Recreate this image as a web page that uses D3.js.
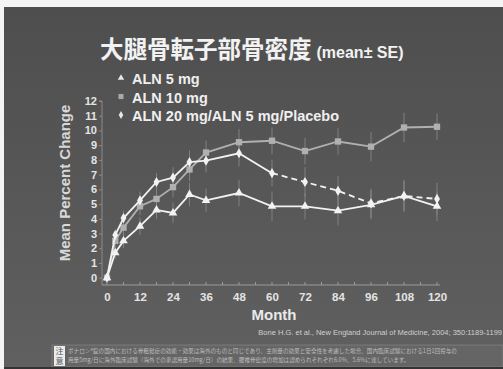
<!DOCTYPE html>
<html>
<head>
<meta charset="utf-8">
<script src="https://cdn.jsdelivr.net/npm/d3@7"></script>
<style>
  body { margin: 0; background: #fff; }
  svg { display: block; font-family: "Liberation Sans", Arial, sans-serif; }
</style>
</head>
<body>
<svg id="chart" width="503" height="369"></svg>
<script>
const months = [0, 3, 6, 12, 18, 24, 30, 36, 48, 60, 72, 84, 96, 108, 120];
const aln5 = [0, 1.7, 2.5, 3.5, 4.6, 4.4, 5.65, 5.25, 5.75, 4.85, 4.85, 4.55, 4.95, 5.55, 4.85];
const aln10 = [0, 2.5, 3.4, 4.85, 5.35, 6.15, 7.35, 8.5, 9.2, 9.3, 8.6, 9.25, 8.9, 10.2, 10.25];
const aln20 = [0, 2.9, 4.05, 5.25, 6.5, 6.8, 7.85, 7.95, 8.45, 7.1, 6.5, 5.9, 5.05, 5.55, 5.35];
const se5 = [0, 0.4, 0.5, 0.6, 0.6, 0.7, 0.8, 0.8, 0.9, 1.0, 0.9, 1.0, 1.0, 1.0, 1.0];
const se10 = [0, 0.4, 0.5, 0.6, 0.6, 0.7, 0.8, 0.8, 0.9, 0.9, 0.9, 0.9, 1.0, 1.0, 0.9];
const se20 = [0, 0.4, 0.5, 0.6, 0.6, 0.7, 0.8, 0.8, 0.9, 0.9, 1.0, 1.0, 1.0, 1.1, 1.1];
const xTicks = [0, 12, 24, 36, 48, 60, 72, 84, 96, 108, 120];
const yTicks = [0, 1, 2, 3, 4, 5, 6, 7, 8, 9, 10, 11, 12];
const legendLabels = ["ALN 5 mg", "ALN 10 mg", "ALN 20 mg/ALN 5 mg/Placebo"];

const svg = d3.select("#chart");
const width = 503, height = 369;

// background: white scan border, dark slide
svg.append("rect").attr("width", width).attr("height", height).attr("fill", "#f4f4f4");
const grad = svg.append("defs").append("linearGradient")
  .attr("id", "bg").attr("x1", 0).attr("y1", 0).attr("x2", 0).attr("y2", 1);
grad.append("stop").attr("offset", 0).attr("stop-color", "#4e4e4e");
grad.append("stop").attr("offset", 1).attr("stop-color", "#606060");
svg.append("rect").attr("x", 4).attr("y", 7).attr("width", width - 4).attr("height", height - 7)
  .attr("fill", "url(#bg)");

const x = d3.scaleLinear().domain([0, 120]).range([107, 437]);
const y = d3.scaleLinear().domain([0, 12]).range([277.7, 101]);

// title
const title = svg.append("text").attr("x", 100).attr("y", 58).attr("fill", "#f2f2f2").attr("font-weight", "bold");
title.append("tspan").attr("font-size", 23.5).attr("font-family", "Noto Sans CJK JP").text("大腿骨転子部骨密度");
title.append("tspan").attr("font-size", 16).attr("dx", 5).text("(mean± SE)");

// axes
const xAxis = svg.append("g").attr("transform", "translate(0,285)")
  .call(d3.axisBottom(x).tickValues(xTicks).tickSize(0).tickPadding(8));
xAxis.select(".domain").attr("stroke", "#9a9a9a").attr("d", `M102,0H${x(120) + 3}`);
xAxis.selectAll("text").attr("fill", "#e4e4e4").attr("font-size", 11.5).attr("font-weight", "bold");
xAxis.selectAll(".minor").data(d3.range(0, 121, 6)).join("line").attr("class", "minor")
  .attr("x1", d => x(d)).attr("x2", d => x(d)).attr("y1", 0).attr("y2", -3).attr("stroke", "#9a9a9a");

const yAxis = svg.append("g").attr("transform", "translate(102,0)")
  .call(d3.axisLeft(y).tickValues(yTicks).tickSize(3).tickPadding(2));
yAxis.select(".domain").attr("stroke", "#8a8a8a").attr("d", `M-3,${y(12)}H0V285`);
yAxis.selectAll("line").attr("stroke", "#8a8a8a");
yAxis.selectAll("text").attr("fill", "#e4e4e4").attr("font-size", 11).attr("font-weight", "bold");

svg.append("text").attr("transform", "translate(70,183) rotate(-90)")
  .attr("text-anchor", "middle").attr("fill", "#d8d8d8").attr("font-size", 15).attr("font-weight", "bold")
  .text("Mean Percent Change");
svg.append("text").attr("x", 274).attr("y", 320).attr("text-anchor", "middle")
  .attr("fill", "#eaeaea").attr("font-size", 15).attr("font-weight", "bold").text("Month");

// series
const series = [
  { values: aln10, se: se10, color: "#b0b0b0", shape: d3.symbolSquare, size: 40, dashFrom: null },
  { values: aln5, se: se5, color: "#f2f2f2", shape: d3.symbolTriangle, size: 32, dashFrom: null },
  { values: aln20, se: se20, color: "#f2f2f2", shape: d3.symbolDiamond, size: 30, dashFrom: 60 }
];

const plot = svg.append("g");
series.forEach(s => {
  const pts = months.map((m, i) => ({ m, v: s.values[i], e: s.se[i] }));
  plot.selectAll(null).data(pts.filter(d => d.e > 0)).join("line")
    .attr("x1", d => x(d.m)).attr("x2", d => x(d.m))
    .attr("y1", d => y(d.v - d.e)).attr("y2", d => y(d.v + d.e))
    .attr("stroke", "#8c8c8c").attr("stroke-width", 1).attr("opacity", 0.8);
});
series.forEach(s => {
  const pts = months.map((m, i) => ({ m, v: s.values[i] }));
  const line = d3.line().x(d => x(d.m)).y(d => y(d.v));
  const solid = s.dashFrom == null ? pts : pts.filter(d => d.m <= s.dashFrom);
  plot.append("path").attr("d", line(solid)).attr("fill", "none")
    .attr("stroke", s.color).attr("stroke-width", 1.8);
  if (s.dashFrom != null) {
    plot.append("path").attr("d", line(pts.filter(d => d.m >= s.dashFrom))).attr("fill", "none")
      .attr("stroke", s.color).attr("stroke-width", 1.8).attr("stroke-dasharray", "6,4");
  }
  plot.selectAll(null).data(pts).join("path")
    .attr("transform", d => `translate(${x(d.m)},${y(d.v)})`)
    .attr("d", d3.symbol().type(s.shape).size(s.size))
    .attr("fill", s.color);
});

// legend
const legend = svg.append("g");
const legendShapes = [
  { shape: d3.symbolTriangle, color: "#e8e8e8", size: 18 },
  { shape: d3.symbolSquare, color: "#a8a8a8", size: 26 },
  { shape: d3.symbolDiamond, color: "#e8e8e8", size: 18 }
];
legendLabels.forEach((label, i) => {
  const cy = 79 + i * 18.5;
  legend.append("path").attr("transform", `translate(121,${cy - 1})`)
    .attr("d", d3.symbol().type(legendShapes[i].shape).size(legendShapes[i].size))
    .attr("fill", legendShapes[i].color);
  legend.append("text").attr("x", 132).attr("y", cy + 5).attr("fill", "#efefef")
    .attr("font-size", 14.5).attr("font-weight", "bold").text(label);
});

// citation and footnote
svg.append("text").attr("x", 502).attr("y", 335).attr("text-anchor", "end")
  .attr("fill", "#d0d0d0").attr("font-size", 7.5)
  .text("Bone H.G. et al., New England Journal of Medicine, 2004; 350:1189-1199");
svg.append("rect").attr("x", 52).attr("y", 345).attr("width", width - 52).attr("height", 22)
  .attr("fill", "#656565").attr("stroke", "#8a8a8a").attr("stroke-width", 0.6);
svg.append("rect").attr("x", 4).attr("y", 367).attr("width", width - 4).attr("height", 2).attr("fill", "#333");
svg.append("rect").attr("x", 54).attr("y", 346).attr("width", 11).attr("height", 20).attr("fill", "#ececec");
svg.append("text").attr("x", 59.5).attr("y", 354).attr("text-anchor", "middle").attr("font-size", 8)
  .attr("fill", "#555").attr("font-family", "Noto Sans CJK JP").text("注");
svg.append("text").attr("x", 59.5).attr("y", 364).attr("text-anchor", "middle").attr("font-size", 8)
  .attr("fill", "#555").attr("font-family", "Noto Sans CJK JP").text("意");
const note = svg.append("text").attr("font-size", 5.6).attr("fill", "#bdbdbd").attr("font-family", "Noto Sans CJK JP");
note.append("tspan").attr("x", 68).attr("y", 353)
  .text("ボナロン®錠の国内における骨粗鬆症の効能・効果は海外のものと同じであり、主剤量の効果と安全性を考慮した場合、国内臨床試験における1日1回投与の");
note.append("tspan").attr("x", 68).attr("y", 362)
  .text("用量5mg/日に海外臨床試験（海外での承認用量10mg/日）の結果、腰椎骨密度の増加は認められそれぞれ6.0%、5.6%に達しています。");
</script>
</body>
</html>
